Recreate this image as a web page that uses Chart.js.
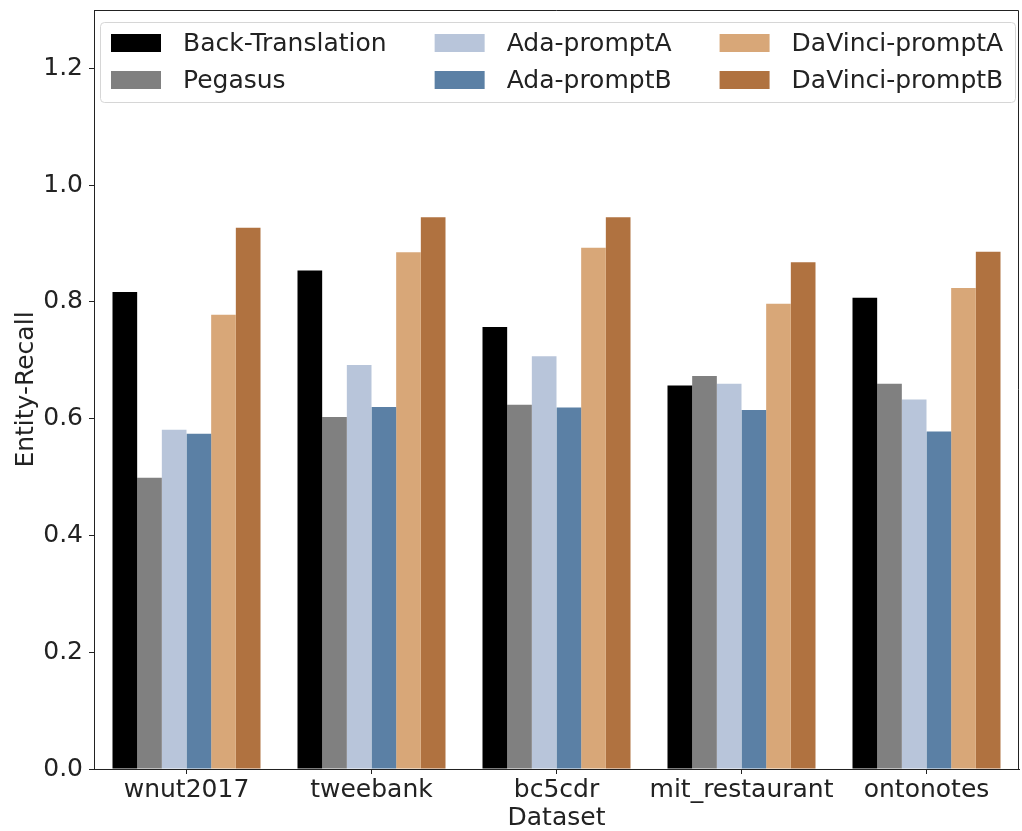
<!DOCTYPE html>
<html>
<head>
<meta charset="utf-8">
<script src="https://cdn.jsdelivr.net/npm/chart.js@4.4.1/dist/chart.umd.min.js"></script>
<style>
  html, body { margin: 0; padding: 0; background: #ffffff; }
  #wrap { width: 1022px; height: 831px; position: relative; }
</style>
</head>
<body>
<div id="wrap"><canvas id="chart" width="1022" height="831"></canvas></div>
<script>
// Datasets on the x axis
const categories = ['wnut2017', 'tweebank', 'bc5cdr', 'mit_restaurant', 'ontonotes'];

// Entity recall per augmentation method
const backTranslation = [0.817, 0.854, 0.757, 0.657, 0.807];
const pegasus         = [0.499, 0.603, 0.624, 0.673, 0.660];
const adaPromptA      = [0.581, 0.692, 0.707, 0.660, 0.633];
const adaPromptB      = [0.574, 0.620, 0.619, 0.615, 0.578];
const davinciPromptA  = [0.778, 0.885, 0.893, 0.797, 0.824];
const davinciPromptB  = [0.927, 0.945, 0.945, 0.868, 0.886];

const seriesNames  = ['Back-Translation', 'Pegasus', 'Ada-promptA', 'Ada-promptB', 'DaVinci-promptA', 'DaVinci-promptB'];
const seriesValues = [backTranslation, pegasus, adaPromptA, adaPromptB, davinciPromptA, davinciPromptB];
const seriesColors = ['#000000', '#808080', '#b8c5da', '#5b80a5', '#d8a778', '#b07240'];

const yTicks = [0, 0.2, 0.4, 0.6, 0.8, 1.0, 1.2];

const FONT = 'DejaVu Sans';
const FS = 25;
const INK = '#222222';

// Boxed legend in three columns, two rows, drawn inside the plot area
const boxLegend = {
  id: 'boxLegend',
  afterDatasetsDraw(chart) {
    const ctx = chart.ctx;
    const ca = chart.chartArea;
    const x0 = ca.left + 6, y0 = ca.top + 12;
    const w = ca.right - ca.left - 10, h = 80;
    ctx.save();
    ctx.beginPath();
    ctx.roundRect(x0 + 0.5, y0 + 0.5, w, h, 4);
    ctx.fillStyle = 'rgba(255,255,255,0.8)';
    ctx.fill();
    ctx.strokeStyle = '#d6d6d6';
    ctx.lineWidth = 1;
    ctx.stroke();

    ctx.font = FS + 'px "' + FONT + '"';
    ctx.textBaseline = 'middle';
    ctx.textAlign = 'left';
    // column layout: handle 2em, handle-text gap 0.8em, column gap 2em
    const handleW = 2 * FS, gap = 0.8 * FS, colGap = 2 * FS;
    const colX = [x0 + 11];
    for (let c = 1; c < 3; c++) {
      const wPrev = Math.max(ctx.measureText(chart.data.datasets[2 * c - 2].label).width,
                             ctx.measureText(chart.data.datasets[2 * c - 1].label).width);
      colX.push(colX[c - 1] + handleW + gap + wPrev + colGap);
    }
    const rowY = [y0 + 21, y0 + 58];
    chart.data.datasets.forEach((ds, i) => {
      const c = Math.floor(i / 2), r = i % 2;
      ctx.fillStyle = ds.backgroundColor;
      ctx.fillRect(colX[c], rowY[r] - 9, handleW, 18);
      ctx.fillStyle = INK;
      ctx.fillText(ds.label, colX[c] + handleW + gap + 2, rowY[r] + 1);
    });
    ctx.restore();
  }
};

// Top and right frame lines of the axes box
const frame = {
  id: 'frame',
  afterDraw(chart) {
    const ctx = chart.ctx;
    const ca = chart.chartArea;
    ctx.save();
    ctx.strokeStyle = INK;
    ctx.lineWidth = 1;
    ctx.beginPath();
    ctx.moveTo(ca.left, ca.top + 0.5);
    ctx.lineTo(ca.right - 0.5, ca.top + 0.5);
    ctx.lineTo(ca.right - 0.5, ca.bottom);
    ctx.stroke();
    ctx.restore();
  }
};

new Chart(document.getElementById('chart'), {
  type: 'bar',
  data: {
    labels: categories,
    datasets: seriesNames.map((name, i) => ({
      label: name,
      data: seriesValues[i],
      backgroundColor: seriesColors[i],
      borderWidth: 0,
      categoryPercentage: 0.8,
      barPercentage: 1.0
    }))
  },
  options: {
    responsive: false,
    animation: false,
    devicePixelRatio: 1,
    layout: { padding: { top: 10, right: 3, left: 0, bottom: 0 } },
    plugins: {
      legend: { display: false },
      tooltip: { enabled: false }
    },
    scales: {
      x: {
        grid: { display: true, drawOnChartArea: false, drawTicks: true, tickLength: 5, offset: false, color: INK },
        border: { display: true, color: INK, width: 1 },
        ticks: { color: INK, font: { family: FONT, size: FS }, padding: 1, maxRotation: 0, autoSkip: false },
        title: { display: true, text: 'Dataset', color: INK, font: { family: FONT, size: FS, lineHeight: 1.0 }, padding: { top: 0, bottom: 0 } },
        afterFit(scale) { scale.height = 62; scale.paddingLeft = 0; scale.paddingRight = 0; }
      },
      y: {
        min: 0,
        max: 1.3,
        grid: { display: true, drawOnChartArea: false, drawTicks: true, tickLength: 5, color: INK },
        border: { display: true, color: INK, width: 1 },
        afterBuildTicks(scale) { scale.ticks = yTicks.map(v => ({ value: v })); },
        ticks: { color: INK, font: { family: FONT, size: FS }, padding: 6, callback: v => Number(v).toFixed(1) },
        title: { display: true, text: 'Entity-Recall', color: INK, font: { family: FONT, size: FS, lineHeight: 1.0 }, padding: { top: 14, bottom: 0 } },
        afterFit(scale) { scale.width = 94; scale.paddingTop = 0; scale.paddingBottom = 0; }
      }
    }
  },
  plugins: [boxLegend, frame]
});
</script>
</body>
</html>
